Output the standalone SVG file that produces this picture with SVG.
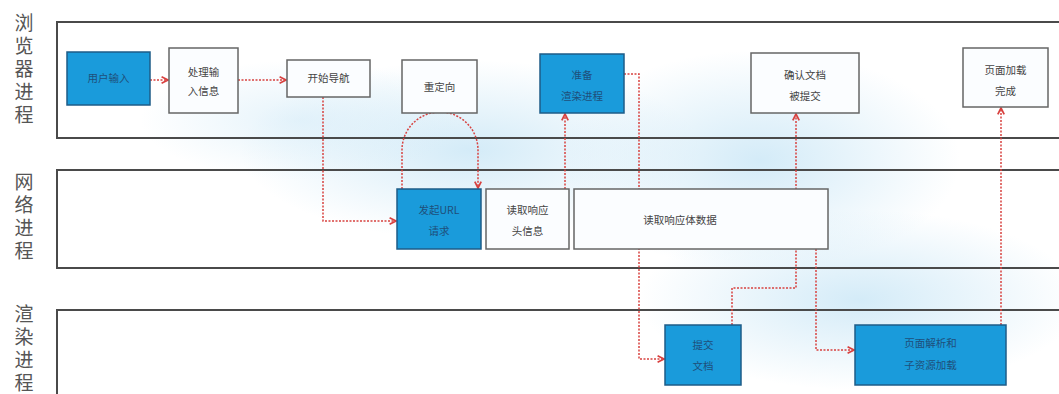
<svg xmlns="http://www.w3.org/2000/svg" width="1059" height="394" viewBox="0 0 1059 394">
<defs>
<radialGradient id="glow" cx="50%" cy="50%" r="50%">
<stop offset="0%" stop-color="#cfe9f7" stop-opacity="0.9"/>
<stop offset="100%" stop-color="#cfe9f7" stop-opacity="0"/>
</radialGradient>
<marker id="arr" viewBox="0 0 10 10" refX="9" refY="5" markerWidth="8" markerHeight="8" markerUnits="userSpaceOnUse" orient="auto">
<path d="M1,1 L9,5 L1,9" fill="none" stroke="#d8413f" stroke-width="2.2"/>
</marker>
</defs>
<style>
.lane{fill:none;stroke:#4a4a4a;stroke-width:2}
.lbl{font-family:"Noto Sans CJK SC",sans-serif;font-size:19px;fill:#555;writing-mode:vertical-rl;letter-spacing:4px}
.wb{fill:#fbfdff;stroke:#666;stroke-width:1.5}
.bb{fill:#1a9bdb;stroke:#1e5c88;stroke-width:1.5}
.t{font-family:"Noto Sans CJK SC",sans-serif;font-size:10.5px;fill:#444;text-anchor:middle}
.tb{font-family:"Noto Sans CJK SC",sans-serif;font-size:10.5px;fill:#1f4f7a;text-anchor:middle}
.c{fill:none;stroke:#d8413f;stroke-width:1.5;stroke-dasharray:2 1.5}
</style>
<rect width="1059" height="394" fill="#ffffff"/>
<ellipse cx="470" cy="150" rx="230" ry="90" fill="url(#glow)"/>
<ellipse cx="760" cy="160" rx="200" ry="110" fill="url(#glow)"/>
<ellipse cx="860" cy="300" rx="220" ry="90" fill="url(#glow)"/>
<ellipse cx="300" cy="120" rx="160" ry="60" fill="url(#glow)" opacity="0.6"/>

<g id="lanes">
<rect class="lane" x="57" y="22" width="1020" height="116"/>
<rect class="lane" x="57" y="170" width="1020" height="98" fill="#fbfdff"/>
<rect class="lane" x="57" y="310" width="1020" height="100"/>
<text class="lbl" x="24" y="13">浏览器进程</text>
<text class="lbl" x="24" y="172">网络进程</text>
<text class="lbl" x="24" y="304">渲染进程</text>
</g>

<g id="connectors">
<path class="c" d="M150,80 L168,80" marker-end="url(#arr)"/>
<path class="c" d="M238,80 L286,80" marker-end="url(#arr)"/>
<path class="c" d="M323,97 L323,221 L396,221" marker-end="url(#arr)"/>
<path class="c" d="M402,189 L402,150 A38,38 0 0 1 478,150 L478,188" marker-end="url(#arr)"/>
<path class="c" d="M565,189 L565,114" marker-end="url(#arr)"/>
<path class="c" d="M624,74 L639,74 L639,359 L664,359" marker-end="url(#arr)"/>
<path class="c" d="M732,325 L732,288 L796,288 L796,114" marker-end="url(#arr)"/>
<path class="c" d="M816,249 L816,350 L854,350" marker-end="url(#arr)"/>
<path class="c" d="M1001,325 L1001,108" marker-end="url(#arr)"/>
</g>

<g id="n-user-input"><rect class="bb" x="67" y="52" width="83" height="53"/><text class="tb" x="108.5" y="82">用户输入</text></g>
<g id="n-process-input"><rect class="wb" x="169" y="48" width="69" height="65"/><text class="t"><tspan x="203.5" y="76">处理输</tspan><tspan x="203.5" y="95">入信息</tspan></text></g>
<g id="n-start-nav"><rect class="wb" x="287" y="60" width="83" height="37"/><text class="t" x="328.5" y="82">开始导航</text></g>
<g id="n-redirect"><rect class="wb" x="402" y="60" width="75" height="53"/><text class="t" x="439.5" y="91">重定向</text></g>
<g id="n-prepare-render"><rect class="bb" x="540" y="54" width="84" height="59"/><text class="tb"><tspan x="582" y="79">准备</tspan><tspan x="582" y="100">渲染进程</tspan></text></g>
<g id="n-confirm-doc"><rect class="wb" x="751" y="53" width="108" height="60"/><text class="t"><tspan x="805" y="79">确认文档</tspan><tspan x="805" y="100">被提交</tspan></text></g>
<g id="n-page-loaded"><rect class="wb" x="963" y="48" width="85" height="59"/><text class="t"><tspan x="1005.5" y="74">页面加载</tspan><tspan x="1005.5" y="95">完成</tspan></text></g>
<g id="n-url-request"><rect class="bb" x="397" y="189" width="84" height="60"/><text class="tb"><tspan x="439" y="214">发起URL</tspan><tspan x="439" y="235">请求</tspan></text></g>
<g id="n-read-header"><rect class="wb" x="486" y="189" width="83" height="60"/><text class="t"><tspan x="527.5" y="214">读取响应</tspan><tspan x="527.5" y="235">头信息</tspan></text></g>
<g id="n-read-body"><rect class="wb" x="574" y="189" width="254" height="60"/><text class="t" x="680" y="224">读取响应体数据</text></g>
<g id="n-commit-doc"><rect class="bb" x="665" y="325" width="76" height="60"/><text class="tb"><tspan x="703" y="349">提交</tspan><tspan x="703" y="370">文档</tspan></text></g>
<g id="n-parse"><rect class="bb" x="855" y="325" width="151" height="60"/><text class="tb"><tspan x="930.5" y="347">页面解析和</tspan><tspan x="930.5" y="369">子资源加载</tspan></text></g>
</svg>
